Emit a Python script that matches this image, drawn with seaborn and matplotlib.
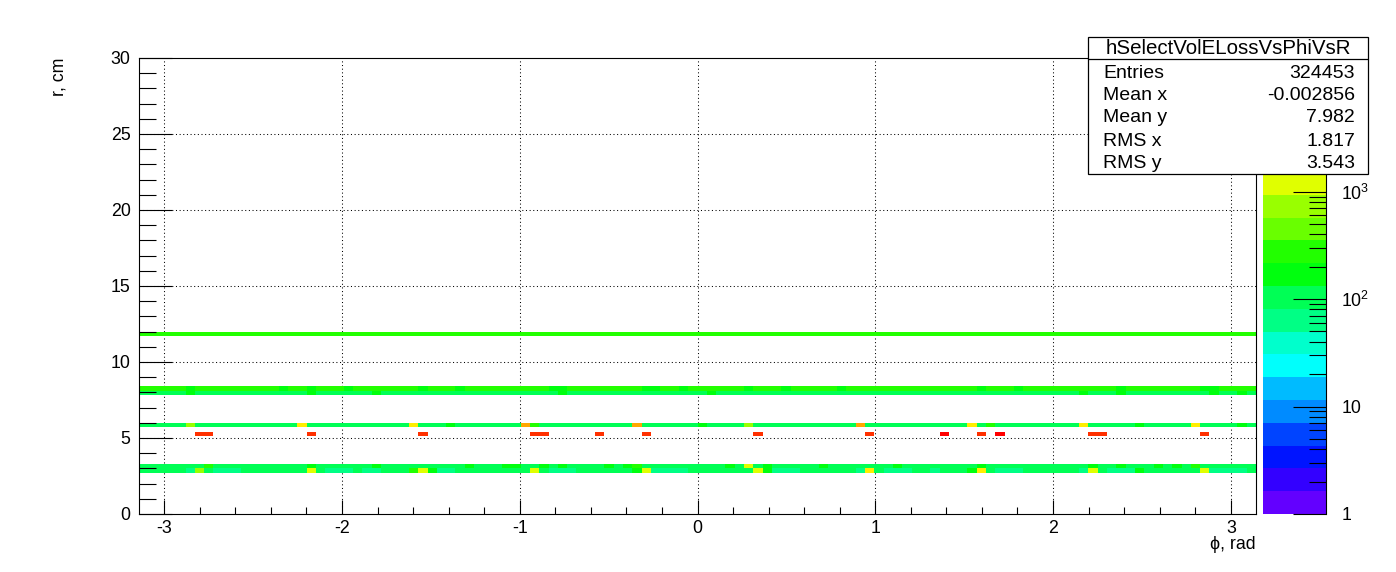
import numpy as np
import pandas as pd
import matplotlib
matplotlib.use("Agg")
import matplotlib.pyplot as plt
from matplotlib.colors import ListedColormap, LogNorm
from matplotlib.ticker import MultipleLocator, LogLocator, NullFormatter
from matplotlib.patches import Rectangle
from matplotlib.lines import Line2D
import seaborn as sns

# ---------------- data ----------------
N_PHI_BINS = 120
PHI_RANGE = (-np.pi, np.pi)
N_R_BINS = 100
R_RANGE = (0.0, 30.0)

# centres of the populated r-bins (cm)
row_r = [11.85, 8.25, 7.95, 5.85, 5.25, 3.15, 2.85]
# typical content of each populated row
row_base = [270, 270, 105, 105, 0, 105, 105]
# bins (phi index) that deviate from the typical content
row_r12 = {}
row_r8_hi = {5: 170, 15: 170, 18: 170, 22: 170, 30: 170, 34: 170, 44: 170, 45: 170,
             54: 170, 55: 170, 58: 170, 65: 170, 69: 170, 75: 170, 90: 170, 94: 170,
             105: 170, 114: 170, 115: 170}
row_r8_lo = {5: 170, 18: 170, 25: 170, 45: 170, 61: 170, 101: 170, 105: 170, 115: 170, 118: 170}
row_r6 = {5: 740, 17: 1950, 29: 1950, 33: 170, 41: 3200, 42: 270, 53: 3200, 60: 170,
          65: 740, 77: 3200, 89: 1950, 91: 270, 101: 1950, 107: 170, 113: 1950, 118: 170}
row_r5 = {6: 8500, 7: 8500, 18: 8500, 30: 8500, 42: 8500, 43: 8500, 49: 8500, 54: 8500,
          66: 8500, 78: 8500, 86: 14000, 90: 8500, 92: 14000, 102: 8500, 103: 8500, 114: 8500}
row_r3_hi = {7: 270, 18: 170, 25: 170, 35: 170, 39: 170, 40: 170, 43: 170, 45: 170, 50: 170,
             52: 170, 53: 270, 63: 170, 65: 1200, 67: 170, 73: 170, 81: 170, 90: 170,
             102: 170, 105: 170, 109: 170, 111: 170, 113: 270}
row_r3_lo = {5: 65, 6: 740, 8: 65, 9: 65, 10: 65, 18: 1200, 20: 65, 21: 65, 22: 65, 24: 65,
             25: 65, 29: 270, 30: 1200, 31: 170, 32: 65, 33: 65, 42: 1200, 44: 65, 45: 65,
             46: 65, 53: 170, 54: 1200, 55: 65, 56: 65, 57: 65, 58: 65, 66: 1200, 67: 170,
             68: 65, 69: 65, 70: 65, 77: 65, 78: 1950, 80: 65, 81: 65, 82: 65, 85: 65,
             89: 170, 90: 1950, 92: 65, 93: 65, 94: 65, 101: 65, 102: 1200, 104: 65,
             105: 65, 106: 65, 107: 170, 114: 1200, 115: 65, 116: 65, 117: 65, 118: 65}
row_exceptions = [row_r12, row_r8_hi, row_r8_lo, row_r6, row_r5, row_r3_hi, row_r3_lo]

Z_MIN, Z_MAX = 1.0, 1.75e4

stats_title = "hSelectVolELossVsPhiVsR"
stats_names = ["Entries", "Mean x", "Mean y", "RMS x", "RMS y"]
stats_values = ["324453", "-0.002856", "7.982", "1.817", "3.543"]

x_label = "\u03d5, rad"
y_label = "r, cm"

# ROOT "pretty" palette, 20 contour levels
palette_colors = ["#6300ff", "#3300ff", "#0014ff", "#0044ff", "#008bff", "#00bbff",
                  "#00fffc", "#00ffcc", "#00ff85", "#00ff55", "#00ff0e", "#22ff00",
                  "#69ff00", "#99ff00", "#e0ff00", "#ffee00", "#ffa700", "#ff7700",
                  "#ff3000", "#ff0000"]

# ---------------- build long table ----------------
phi_edges = np.linspace(PHI_RANGE[0], PHI_RANGE[1], N_PHI_BINS + 1)
phi_centres = 0.5 * (phi_edges[:-1] + phi_edges[1:])
recs = []
for r, base, exc in zip(row_r, row_base, row_exceptions):
    vals = np.full(N_PHI_BINS, float(base))
    for b, c in exc.items():
        vals[b] = c
    for p, v in zip(phi_centres, vals):
        if v > 0:
            recs.append((p, r, v))
df = pd.DataFrame(recs, columns=["phi", "r", "counts"])

# ---------------- style ----------------
sns.set_theme(style="white")
plt.rcParams.update({
    "font.family": ["Liberation Sans", "DejaVu Sans"],
    "mathtext.fontset": "custom",
    "mathtext.rm": "Liberation Sans",
    "mathtext.it": "Liberation Sans:italic",
    "mathtext.bf": "Liberation Sans:bold",
    "axes.unicode_minus": False,
    "axes.edgecolor": "black",
    "axes.linewidth": 0.8,
    "xtick.color": "black",
    "ytick.color": "black",
    "text.color": "black",
    "axes.labelcolor": "black",
})

FS = 12.8
FS_STAT = 14.0
W, H = 1396, 572
fig = plt.figure(figsize=(W / 100, H / 100), dpi=100)
fig.patch.set_facecolor("white")
ax = fig.add_axes([139 / W, (H - 514) / H, 1117 / W, 456 / H])
cax = fig.add_axes([1263 / W, (H - 514) / H, 63 / W, 456 / H])

cmap = ListedColormap(palette_colors)
norm = LogNorm(vmin=Z_MIN, vmax=Z_MAX)

sns.histplot(data=df, x="phi", y="r", weights="counts",
             bins=(N_PHI_BINS, N_R_BINS), binrange=(PHI_RANGE, R_RANGE),
             cmap=cmap, cbar=False, ax=ax)
mesh = ax.collections[0]
mesh.set_norm(norm)
mesh.set_zorder(2)
cbar = fig.colorbar(mesh, cax=cax)

ax.set_xlim(*PHI_RANGE)
ax.set_ylim(*R_RANGE)
ax.set_axisbelow(False)

# axes ticks, ROOT style (inward)
ax.xaxis.set_major_locator(MultipleLocator(1))
ax.xaxis.set_minor_locator(MultipleLocator(0.2))
ax.yaxis.set_major_locator(MultipleLocator(5))
ax.yaxis.set_minor_locator(MultipleLocator(1))
ax.tick_params(axis="x", which="major", direction="in", length=10, width=0.8,
               pad=4, labelsize=FS, bottom=True, top=False)
ax.tick_params(axis="x", which="minor", direction="in", length=5, width=0.8,
               bottom=True, top=False)
ax.tick_params(axis="y", which="major", direction="in", length=24, width=0.8,
               pad=6, labelsize=FS, left=True, right=False)
ax.tick_params(axis="y", which="minor", direction="in", length=12, width=0.8,
               left=True, right=False)
for s in ax.spines.values():
    s.set_visible(True)
    s.set_color("black")
    s.set_linewidth(0.8)

# dotted grid beneath the histogram cells (ticks stay on top)
ax.grid(False)
grid_style = dict(color="black", linestyle=(0, (1, 2.5)), linewidth=0.75, zorder=1)
for xv in ax.get_xticks():
    if PHI_RANGE[0] < xv < PHI_RANGE[1]:
        ax.axvline(xv, **grid_style)
for yv in ax.get_yticks():
    if R_RANGE[0] < yv < R_RANGE[1]:
        ax.axhline(yv, **grid_style)

ax.set_xlabel(x_label, loc="right", fontsize=FS)
ax.xaxis.set_label_coords(1.0, -0.048)
ax.xaxis.label.set_va("top")
ax.set_ylabel(y_label, loc="top", fontsize=FS)
ax.yaxis.set_label_coords(-0.0636, 1.0)

# colour bar axis
cax.set_axisbelow(False)
cbar.outline.set_visible(False)
cbar.set_ticks([1, 10, 100, 1000], labels=["1", "10", r"$10^{2}$", r"$10^{3}$"])
cax.yaxis.set_minor_locator(LogLocator(base=10, subs=np.arange(2, 10)))
cax.yaxis.set_minor_formatter(NullFormatter())
cax.tick_params(axis="y", which="major", direction="in", length=24, width=0.8,
                labelsize=FS, pad=11, right=True, left=False, labelright=True, labelleft=False)
cax.tick_params(axis="y", which="minor", direction="in", length=12, width=0.8,
                right=True, left=False)
cax.spines["right"].set_visible(True)
cax.spines["right"].set_color("black")
cax.spines["right"].set_linewidth(0.8)

# statistics box
bx0, bx1 = 1088 / W, 1368 / W
by_top, by_bot = 1 - 37 / H, 1 - 174 / H
fig.add_artist(Rectangle((bx0, by_bot), bx1 - bx0, by_top - by_bot, transform=fig.transFigure,
                         facecolor="white", edgecolor="black", linewidth=0.9, zorder=10))
fig.add_artist(Line2D([bx0, bx1], [1 - 59 / H, 1 - 59 / H], transform=fig.transFigure,
                      color="black", linewidth=0.9, zorder=11))
fig.text((bx0 + bx1) / 2, 1 - 48 / H, stats_title, ha="center", va="center",
         fontsize=FS_STAT + 0.8, zorder=12)
row_y = [73, 96, 118, 141, 163]
for name, val, yy in zip(stats_names, stats_values, row_y):
    fig.text(1103 / W, 1 - yy / H, name, ha="left", va="center", fontsize=FS_STAT, zorder=12)
    fig.text(1355 / W, 1 - yy / H, val, ha="right", va="center", fontsize=FS_STAT, zorder=12)

fig.savefig("out.png", dpi=100, facecolor="white")
